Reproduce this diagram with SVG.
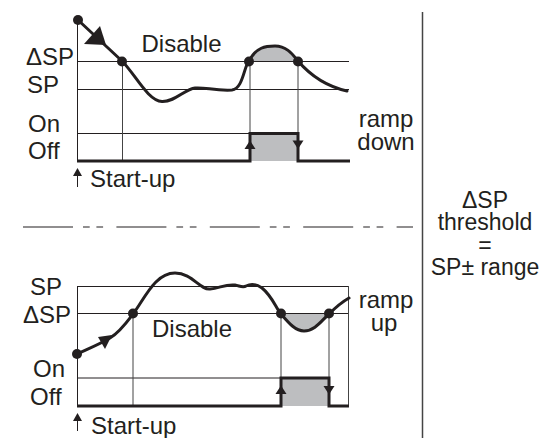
<svg xmlns="http://www.w3.org/2000/svg" width="547" height="438" viewBox="0 0 547 438">
<style>
text{font-family:"Liberation Sans",Arial,sans-serif;font-size:24px;fill:#231f20}
.lg{font-size:23px}
.thin{stroke:#231f20;stroke-width:1;fill:none}
.drop{stroke:#444;stroke-width:1;fill:none}
.thick{stroke:#231f20;stroke-width:3;fill:none}
.curve{stroke:#231f20;stroke-width:3;fill:none;stroke-linecap:round;stroke-linejoin:round}
.fillg{fill:#bdbec0;stroke:none}
.dot{fill:#231f20}
.tri{fill:#231f20}
</style>
<rect width="547" height="438" fill="#fff"/>
<g id="top-panel">
  <path class="fillg" d="M249,61.5 C256,47 266,46 275,46 C287,46 293,55 298,61.5 Z"/>
  <rect class="fillg" x="250" y="133.5" width="48" height="27.5"/>
  <path class="thin" d="M77.5,61.5 H349 M77.5,89.5 H349 M77.5,133.5 H250 M77.5,20 V161"/>
  <path class="drop" d="M122.5,61 V161 M250,61 V161 M298,61 V161"/>
  <path class="thick" d="M77,161 H250 V133.5 H298 V161 H350"/>
  <path class="curve" d="M78,20 L122,61 C135,74 148,101 162,101.5 C175,102 185,89 195,88 C205,87 215,91 232,90 C243,89 244,66 249,61 C256,47 266,46 275,46 C287,46 293,55 298,61 C310,75 325,86 347,91"/>
  <circle class="dot" cx="78" cy="20" r="5"/>
  <circle class="dot" cx="122" cy="61.5" r="5"/>
  <circle class="dot" cx="249" cy="61.5" r="5"/>
  <circle class="dot" cx="298" cy="61.5" r="5"/>
  <polygon class="tri" points="106,45 84,44 100,26"/>
  <polygon class="tri" points="250,140.5 244.5,149 255.5,149"/>
  <polygon class="tri" points="292.5,140.5 303.5,140.5 298,149"/>
  <polygon class="tri" points="77.5,168 73,176 82,176"/>
  <path class="thin" d="M77.5,175 V187"/>
  <text x="26" y="65">ΔSP</text>
  <text x="27" y="93">SP</text>
  <text x="28" y="131.5">On</text>
  <text x="28" y="158.5">Off</text>
  <text x="141.5" y="51.5">Disable</text>
  <text x="90" y="186.5">Start-up</text>
  <text x="386" y="126.5" text-anchor="middle">ramp</text>
  <text x="386" y="150" text-anchor="middle">down</text>
</g>
<g id="separator">
  <path d="M23,227 H413" stroke="#231f20" stroke-width="1.2" fill="none" stroke-dasharray="50 10 6.7 6.7 6.7 13.3"/>
  <path d="M422.5,12 V438" stroke="#444" stroke-width="1.5" fill="none"/>
</g>
<g id="bottom-panel">
  <path class="fillg" d="M281,313.5 C288,322 295,331 304,331 C315,331 322,320 329,313.5 Z"/>
  <rect class="fillg" x="281" y="378" width="48" height="28"/>
  <path class="thin" d="M77.5,286.5 H349 M77.5,313.5 H349 M77.5,378 H281 M77.5,286 V406"/>
  <path class="drop" d="M348.5,286 V406 M133,313 V406 M281,313 V406 M329,313 V406"/>
  <path class="thick" d="M77,406 H281 V378 H329 V406 H349"/>
  <path class="curve" d="M77,354 C90,348 100,344 110,338 C120,332 127,322 133,314 C145,298 155,273 175,273 C192,273 200,290 210,289 C220,288 225,284 235,285 C240,286 243,288 246,286 C250,284 255,283 262,288 C272,296 276,308 281,314 C288,322 295,331 304,331 C315,331 322,320 329,314 C335,308 342,302 349,298"/>
  <circle class="dot" cx="77" cy="354" r="5"/>
  <circle class="dot" cx="133" cy="313.5" r="5"/>
  <circle class="dot" cx="281" cy="313.5" r="5"/>
  <circle class="dot" cx="329" cy="313.5" r="5"/>
  <polygon class="tri" points="98,337 112,335 105,349"/>
  <polygon class="tri" points="281,385.5 275.5,394 286.5,394"/>
  <polygon class="tri" points="323.5,386 334.5,386 329,394.5"/>
  <polygon class="tri" points="77.5,413 73,421 82,421"/>
  <path class="thin" d="M77.5,420 V431"/>
  <text x="30" y="295">SP</text>
  <text x="23" y="323">ΔSP</text>
  <text x="33" y="377">On</text>
  <text x="30" y="405">Off</text>
  <text x="152" y="337">Disable</text>
  <text x="91" y="434">Start-up</text>
  <text x="386" y="308" text-anchor="middle">ramp</text>
  <text x="384" y="331" text-anchor="middle">up</text>
</g>
<g id="legend">
  <text class="lg" x="485" y="207.5" text-anchor="middle">ΔSP</text>
  <text class="lg" x="485" y="230" text-anchor="middle">threshold</text>
  <text class="lg" x="485" y="252.5" text-anchor="middle">=</text>
  <text class="lg" x="485" y="275" text-anchor="middle">SP± range</text>
</g>
</svg>
